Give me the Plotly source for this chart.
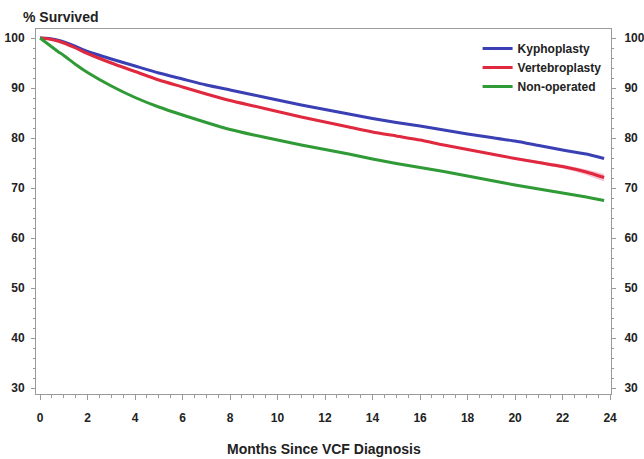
import plotly.graph_objects as go

months = [0, 0.25, 0.5, 0.75, 1, 1.5, 2, 3, 4, 5, 6, 7, 8, 9, 10, 11, 12, 13, 14, 15, 16, 17, 18, 19, 20, 21, 22, 23, 23.75]
kyphoplasty = [100, 99.95, 99.8, 99.55, 99.2, 98.3, 97.3, 95.8, 94.4, 93.0, 91.8, 90.6, 89.6, 88.6, 87.6, 86.6, 85.7, 84.8, 83.9, 83.1,
               82.4, 81.6, 80.8, 80.1, 79.4, 78.5, 77.6, 76.8, 75.9]
vertebroplasty = [100, 99.9, 99.7, 99.4, 99.0, 98.0, 96.9, 95.0, 93.3, 91.6, 90.2, 88.8, 87.5, 86.4, 85.3, 84.2, 83.2, 82.2, 81.2, 80.4,
                  79.6, 78.6, 77.7, 76.8, 75.9, 75.1, 74.3, 73.2, 72.1]
non_operated = [100, 99.1, 98.2, 97.3, 96.5, 94.7, 93.1, 90.4, 88.1, 86.2, 84.6, 83.1, 81.7, 80.6, 79.6, 78.6, 77.7, 76.8, 75.8, 74.9,
                74.1, 73.3, 72.4, 71.5, 70.6, 69.8, 69.0, 68.2, 67.5]

# faint confidence band visible at the end of the Vertebroplasty curve
band_months = [20, 21, 22, 23, 23.75]
vert_upper = [76.1, 75.4, 74.7, 73.7, 72.8]
vert_lower = [75.7, 74.8, 73.9, 72.6, 71.3]

series_names = ["Kyphoplasty", "Vertebroplasty", "Non-operated"]
series_colors = ["#3a3fb4", "#e0283e", "#2f9a36"]
x_ticks = list(range(0, 25, 2))
y_ticks = list(range(30, 101, 10))

FONT = "Liberation Sans, Arial, sans-serif"
AX = "#9a9a9a"

fig = go.Figure()
fig.add_trace(go.Scatter(x=band_months, y=vert_upper, mode="lines", line=dict(width=0, shape="spline"),
                         showlegend=False, hoverinfo="skip"))
fig.add_trace(go.Scatter(x=band_months, y=vert_lower, mode="lines", line=dict(width=0, shape="spline"),
                         fill="tonexty", fillcolor="rgba(235,80,130,0.35)", showlegend=False, hoverinfo="skip"))
for name, vals, col in zip(series_names, [kyphoplasty, vertebroplasty, non_operated], series_colors):
    fig.add_trace(go.Scatter(x=months, y=vals, mode="lines", name=name,
                             line=dict(color=col, width=3, shape="spline", smoothing=0.5)))
fig.add_trace(go.Scatter(x=[None], y=[None], yaxis="y2", showlegend=False, hoverinfo="skip"))

tickfont = dict(family=FONT, size=12, color="#222222", weight="bold")
common_y = dict(range=[28.8, 101.8], tickvals=y_ticks, showgrid=False, zeroline=False, automargin=False,
                showline=True, linecolor=AX, linewidth=1, ticks="outside", ticklen=4, tickcolor=AX,
                tickfont=tickfont,
                minor=dict(dtick=2, ticks="outside", ticklen=2, tickcolor=AX))

fig.update_layout(
    width=644, height=459,
    paper_bgcolor="white", plot_bgcolor="white",
    margin=dict(l=36, r=33, t=29, b=65),
    font=dict(family=FONT, size=12, color="#222222"),
    xaxis=dict(range=[-0.17, 24.04], tickvals=x_ticks, showgrid=False, zeroline=False, automargin=False,
               showline=True, linecolor=AX, linewidth=1, mirror=True,
               ticks="outside", ticklen=5, tickcolor=AX, tickfont=tickfont, ticklabelstandoff=8,
               minor=dict(dtick=0.5, ticks="outside", ticklen=3, tickcolor=AX)),
    yaxis=dict(**common_y, ticklabelstandoff=4),
    yaxis2=dict(**common_y, overlaying="y", side="right", matches="y", ticklabelstandoff=6),
    legend=dict(x=0.768, y=0.986, xanchor="left", yanchor="top", bgcolor="rgba(0,0,0,0)",
                traceorder="normal",
                font=dict(family=FONT, size=12, color="#222222", weight="bold"), tracegroupgap=0),
    showlegend=True,
    annotations=[
        dict(text="% Survived", xref="paper", yref="paper", x=-0.026, y=1.033,
             xanchor="left", yanchor="middle", showarrow=False,
             font=dict(family=FONT, size=14, color="#222222", weight="bold")),
        dict(text="Months Since VCF Diagnosis", xref="paper", yref="paper", x=0.5, y=-0.151,
             xanchor="center", yanchor="middle", showarrow=False,
             font=dict(family=FONT, size=14, color="#222222", weight="bold")),
    ],
)

fig.write_html("out.html", config={"displayModeBar": False},
               post_script="document.body.style.margin='0';document.body.style.overflow='hidden';")
